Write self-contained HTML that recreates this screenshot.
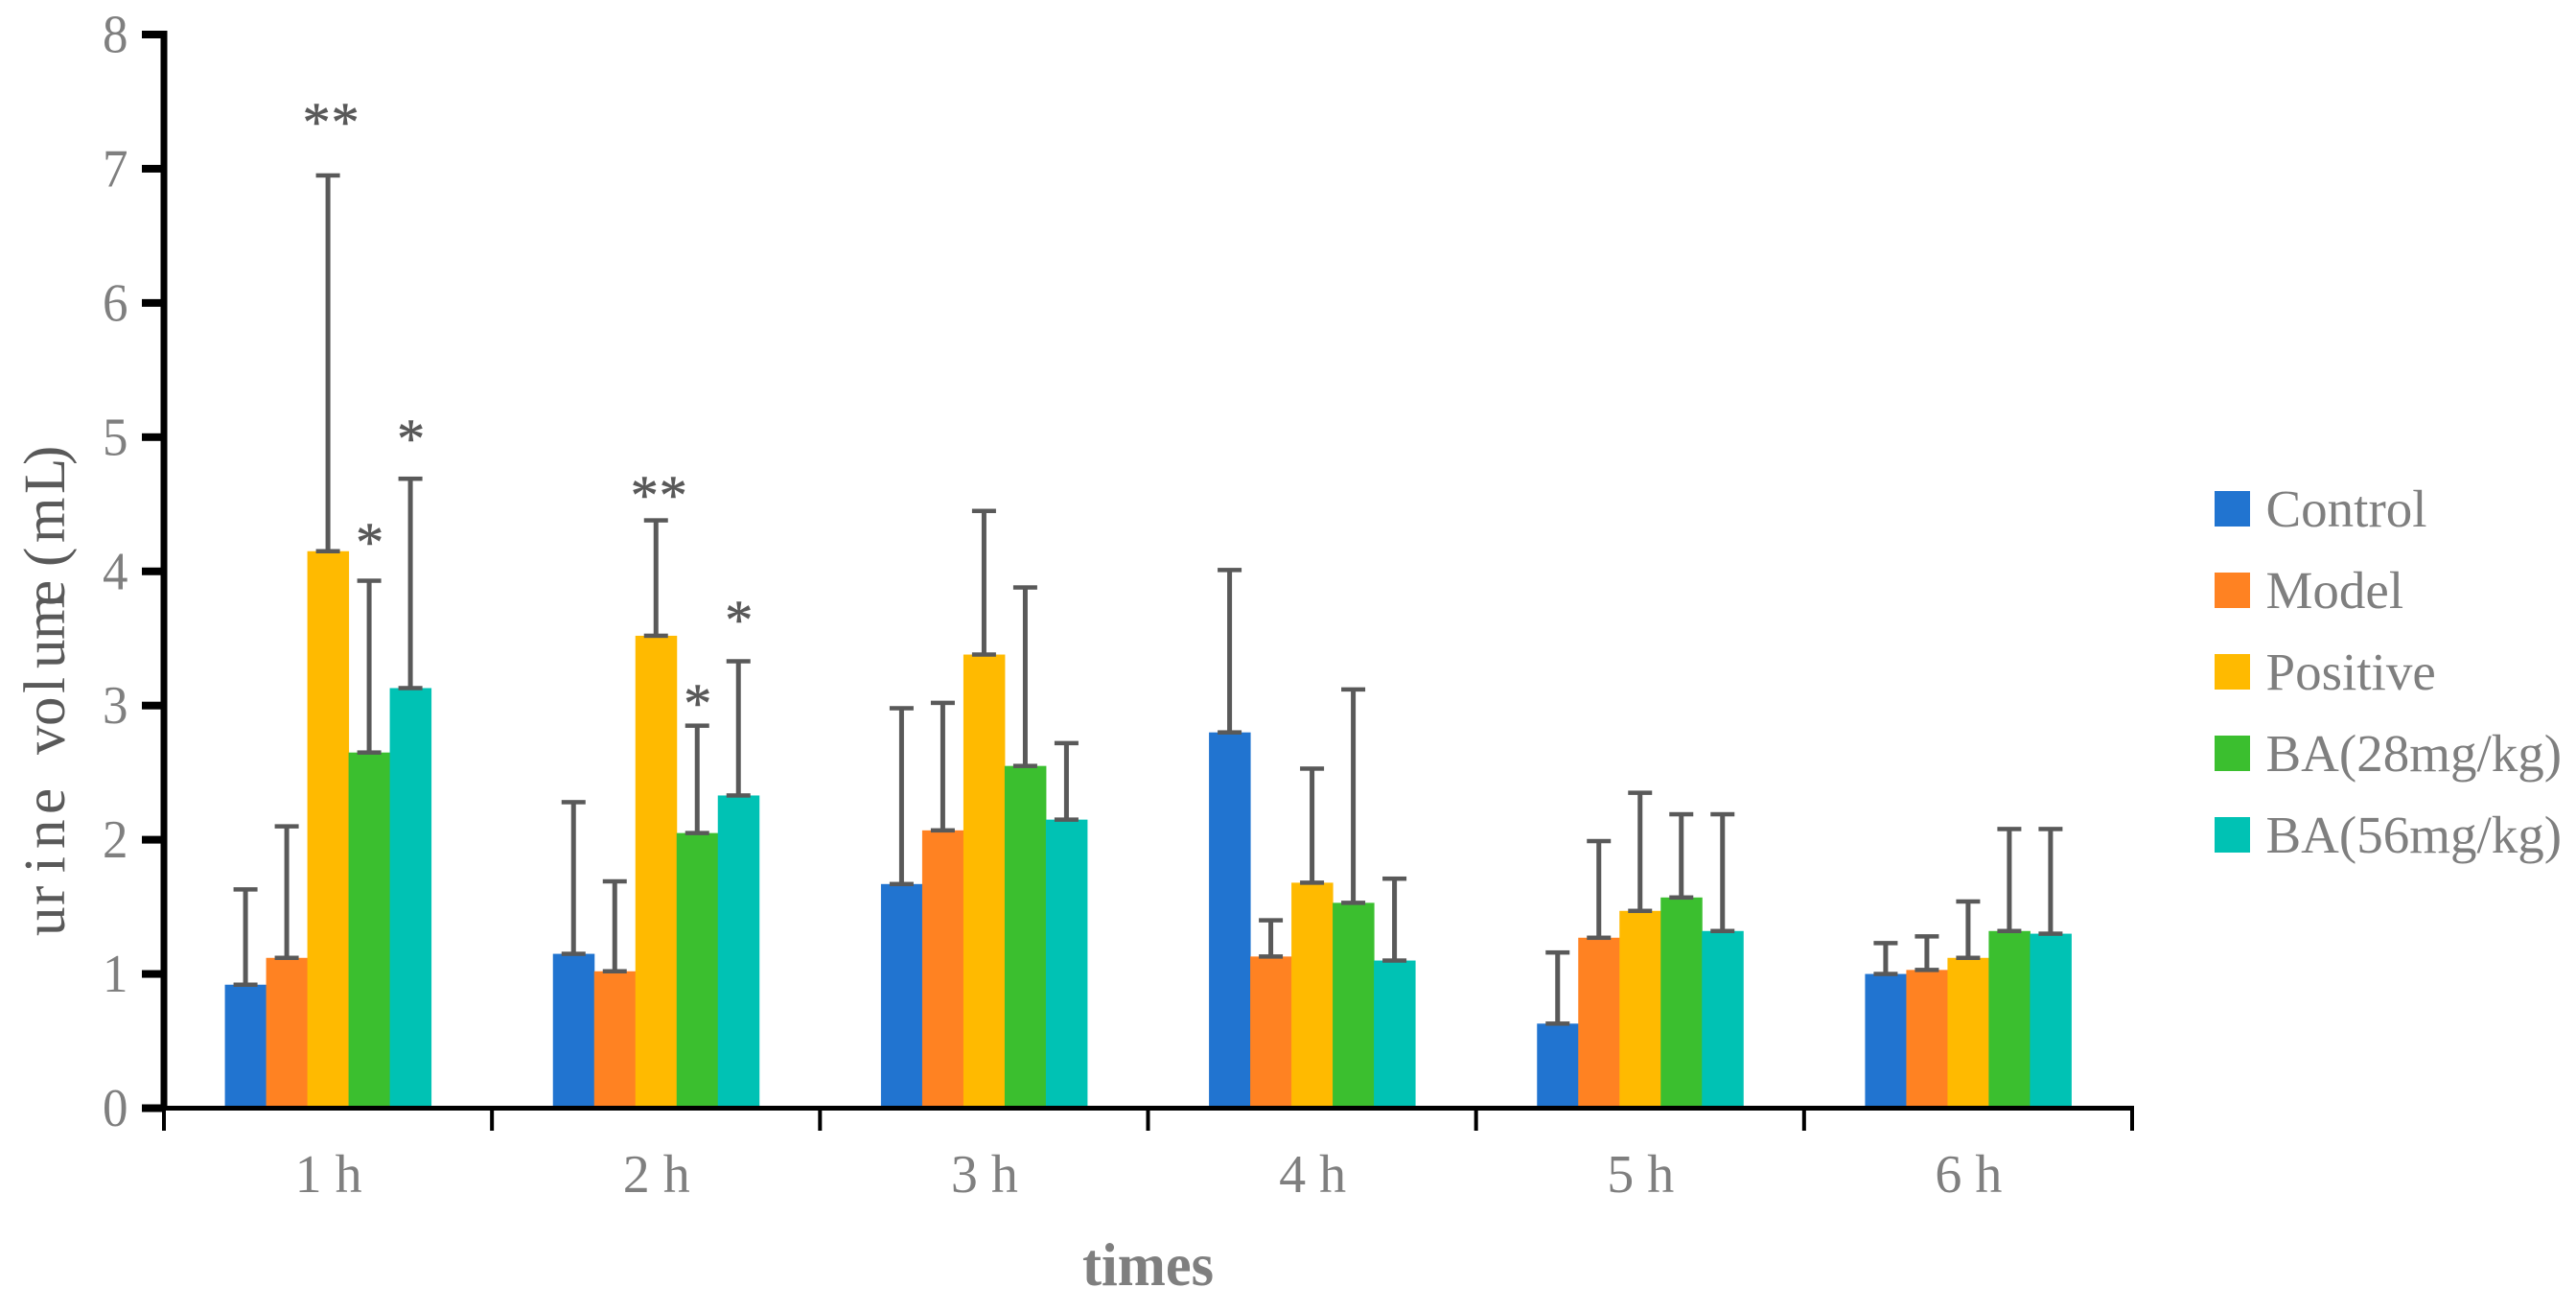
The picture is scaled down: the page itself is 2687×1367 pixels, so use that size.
<!DOCTYPE html>
<html lang="en">
<head>
<meta charset="utf-8">
<title>Urine volume over time</title>
<style>
html,body{margin:0;padding:0;background:#fff;width:2687px;height:1367px;overflow:hidden}
svg{display:block;font-family:"Liberation Serif","Times New Roman",serif}
</style>
</head>
<body>
<svg id="chart" xmlns="http://www.w3.org/2000/svg" width="2687" height="1367" viewBox="0 0 2687 1367">
  <rect x="0" y="0" width="2687" height="1367" fill="#ffffff"/>
  <g id="bars"></g>
  <g id="errors"></g>
  <g id="axes"></g>
  <g id="stars"></g>
  <g id="legend"></g>
  <text transform="translate(67,976) rotate(-90)" font-size="61" fill="#595959" x="0 32 66 91 127 165 189 219 253 279 309 344 375 385 410 461 491" y="0">urine volume (mL)</text>
  <text x="1129" y="1340" font-size="63" font-weight="bold" fill="#7f7f7f" textLength="137" lengthAdjust="spacingAndGlyphs">times</text>
</svg>
<script>
const categories = ["1 h", "2 h", "3 h", "4 h", "5 h", "6 h"];
const seriesNames = ["Control", "Model", "Positive", "BA(28mg/kg)", "BA(56mg/kg)"];
const seriesColors = ["#2174d0", "#ff8222", "#ffba00", "#3bbf2f", "#00c2b4"];
const yTicks = [0, 1, 2, 3, 4, 5, 6, 7, 8];
const controlValues = [0.92, 1.15, 1.67, 2.80, 0.63, 1.00];
const modelValues = [1.12, 1.02, 2.07, 1.13, 1.27, 1.03];
const positiveValues = [4.15, 3.52, 3.38, 1.68, 1.47, 1.12];
const ba28Values = [2.65, 2.05, 2.55, 1.53, 1.57, 1.32];
const ba56Values = [3.13, 2.33, 2.15, 1.10, 1.32, 1.30];
const controlTops = [1.63, 2.28, 2.98, 4.01, 1.16, 1.23];
const modelTops = [2.10, 1.69, 3.02, 1.40, 1.99, 1.28];
const positiveTops = [6.95, 4.38, 4.45, 2.53, 2.35, 1.54];
const ba28Tops = [3.93, 2.85, 3.88, 3.12, 2.19, 2.08];
const ba56Tops = [4.69, 3.33, 2.72, 1.71, 2.19, 2.08];
const seriesValues = [controlValues, modelValues, positiveValues, ba28Values, ba56Values];
const seriesTops = [controlTops, modelTops, positiveTops, ba28Tops, ba56Tops];
const starLabels = ["**", "*", "*", "**", "*", "*"];
const starGroups = [0, 0, 0, 1, 1, 1];
const starSeries = [2, 3, 4, 2, 3, 4];
const starLevels = [7.40, 4.27, 5.04, 4.62, 3.07, 3.69];

const NS = "http://www.w3.org/2000/svg";
const plotLeft = 171, plotRight = 2224, plotBottom = 1155.5, plotTop = 36;
const yMax = 8;
const groupWidth = (plotRight - plotLeft) / categories.length;
const barWidth = 43;

function yScale(v) { return plotBottom - (v / yMax) * (plotBottom - plotTop); }
function groupCenter(g) { return plotLeft + groupWidth * (g + 0.5); }
function barLeft(g, s) { return groupCenter(g) + (s - seriesNames.length / 2) * barWidth; }
function barCenter(g, s) { return barLeft(g, s) + barWidth / 2; }
function mk(tag, attrs, parent) {
  const el = document.createElementNS(NS, tag);
  for (const k in attrs) el.setAttribute(k, attrs[k]);
  parent.appendChild(el);
  return el;
}

const barsG = document.getElementById("bars");
const errorsG = document.getElementById("errors");
const axesG = document.getElementById("axes");
const starsG = document.getElementById("stars");
const legendG = document.getElementById("legend");

seriesNames.forEach(function (name, s) {
  categories.forEach(function (cat, g) {
    const top = yScale(seriesValues[s][g]);
    const bar = mk("rect", { x: barLeft(g, s), y: top, width: barWidth + 0.5, height: plotBottom - top, fill: seriesColors[s] }, barsG);
    
    

    const cx = barCenter(g, s);
    const yMean = yScale(seriesValues[s][g]);
    const yTop = yScale(seriesTops[s][g]);
    const stem = mk("rect", { x: cx - 2.5, y: yTop, width: 5, height: yMean - yTop, fill: "#595959" }, errorsG);
    
    
    const capTop = mk("rect", { x: cx - 12.5, y: yTop - 2.25, width: 25, height: 4.5, fill: "#595959" }, errorsG);
    
    
    const capBottom = mk("rect", { x: cx - 12.5, y: yMean - 2.25, width: 25, height: 4.5, fill: "#595959" }, errorsG);
    
    
  });
});

const yAxisLine = mk("rect", { x: 167.5, y: 32, width: 7, height: 1126, fill: "#000" }, axesG);


const xAxisLine = mk("rect", { x: 168, y: 1153, width: 2058, height: 5, fill: "#000" }, axesG);



yTicks.forEach(function (t) {
  const y = yScale(t);
  const tick = mk("rect", { x: 148, y: y - 4, width: 22, height: 8, fill: "#000" }, axesG);
  
  
  const label = mk("text", { x: 107, y: y + 18.5, "font-size": 56, fill: "#7f7f7f", textLength: 26.5, lengthAdjust: "spacingAndGlyphs" }, axesG);
  
  
  label.textContent = String(t);
});

for (let i = 0; i <= categories.length; i++) {
  const x = plotLeft + groupWidth * i;
  const tick = mk("rect", { x: x - 2, y: 1155, width: 4, height: 24, fill: "#000" }, axesG);
  
  
}

categories.forEach(function (cat, g) {
  const label = mk("text", { x: groupCenter(g) + 0.5, y: 1243, "text-anchor": "middle", "font-size": 56, fill: "#7f7f7f" }, axesG);
  
  
  label.textContent = cat;
});

starLabels.forEach(function (txt, i) {
  const star = mk("text", {
    x: barCenter(starGroups[i], starSeries[i]) + (txt.length === 2 ? 3.5 : 1),
    y: yScale(starLevels[i]) + 27,
    "text-anchor": "middle",
    "font-size": 58,
    "letter-spacing": 1,
    fill: "#595959",
    stroke: "#595959",
    "stroke-width": 0.6
  }, starsG);
  
  
  star.textContent = txt;
});

seriesNames.forEach(function (name, s) {
  const swatchTop = 512 + 85 * s;
  const swatch = mk("rect", { x: 2310, y: swatchTop, width: 37, height: 37, fill: seriesColors[s] }, legendG);
  
  
  const label = mk("text", { x: 2363.5, y: swatchTop + 37, "font-size": 55, fill: "#7f7f7f" }, legendG);
  
  
  label.textContent = name;
});
</script>
</body>
</html>
